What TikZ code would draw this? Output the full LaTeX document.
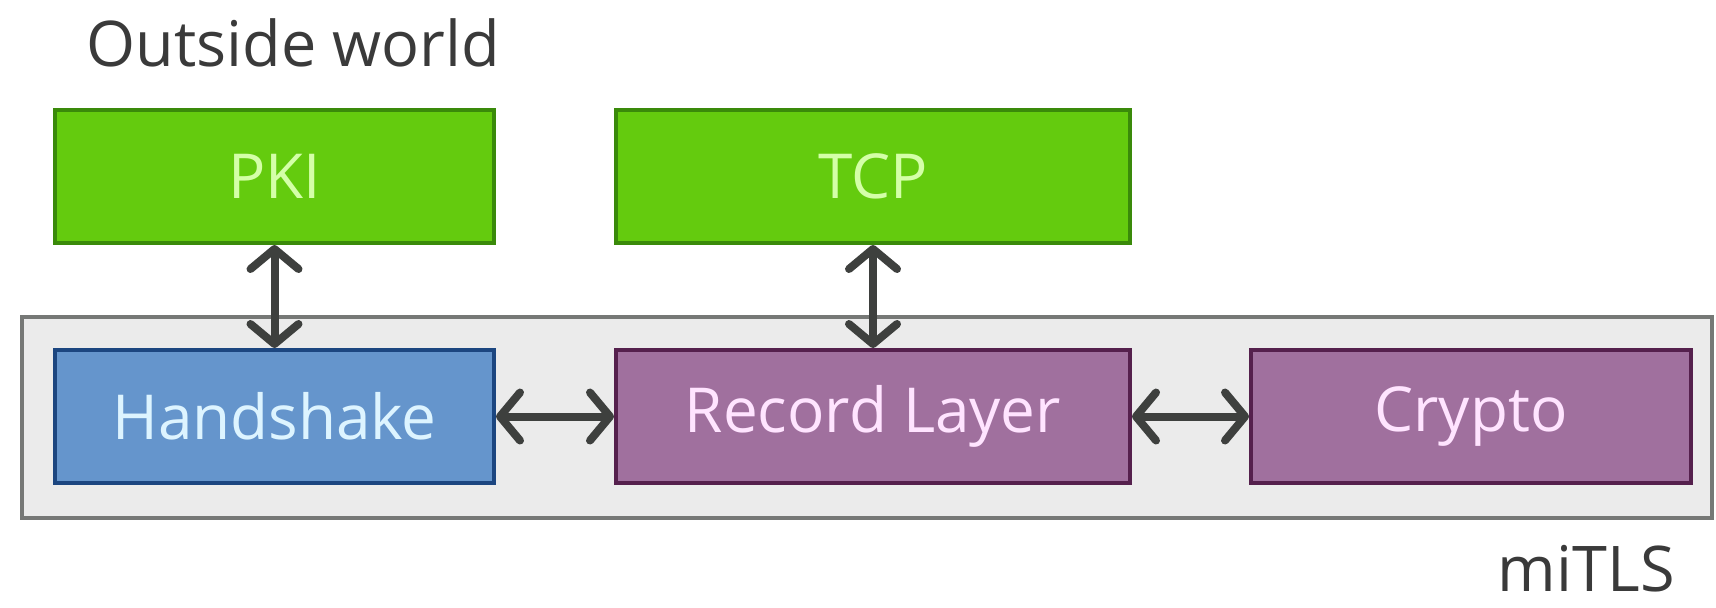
\documentclass[tikz,border=0pt]{standalone}
\usepackage{fontspec}
\setmainfont{Open Sans}
\usetikzlibrary{arrows.meta}
\definecolor{gfill}{HTML}{64CB0E}
\definecolor{gdraw}{HTML}{3A8A0A}
\definecolor{gtext}{HTML}{D4FFA8}
\definecolor{bfill}{HTML}{6595CC}
\definecolor{bdraw}{HTML}{1C4680}
\definecolor{btext}{HTML}{DDF4FF}
\definecolor{pfill}{HTML}{A0709E}
\definecolor{pdraw}{HTML}{55204D}
\definecolor{ptext}{HTML}{FFE4FF}
\definecolor{cfill}{HTML}{EBEBEB}
\definecolor{cdraw}{HTML}{767876}
\definecolor{darktext}{HTML}{3A3A3A}
\definecolor{arrowgray}{HTML}{3E403E}
\begin{document}
\begin{tikzpicture}[x=0.5pt,y=-0.5pt,
  box/.style={draw, line width=2pt, minimum height=66.5pt, inner sep=0pt,
    font=\fontsize{31}{36}\selectfont},
  greenbox/.style={box, fill=gfill, draw=gdraw, text=gtext},
  bluebox/.style={box, fill=bfill, draw=bdraw, text=btext},
  purplebox/.style={box, fill=pfill, draw=pdraw, text=ptext},
  container/.style={draw=cdraw, fill=cfill, line width=1.8pt, inner sep=0pt},
  label/.style={text=darktext, inner sep=0pt, font=\fontsize{31.5}{36}\selectfont},
  link/.style={draw=arrowgray, line width=4pt,
    {Straight Barb[length=10pt,width=24pt,round]}-{Straight Barb[length=10pt,width=24pt,round]}}
]
\useasboundingbox (0,0) rectangle (1716,607);
\node[container, minimum width=845pt, minimum height=100.5pt] (mitls) at (867,417.5) {};
\node[greenbox, minimum width=219.5pt] (pki) at (274.5,176.5) {PKI};
\node[greenbox, minimum width=257pt] (tcp) at (873,176.5) {TCP};
\node[bluebox, minimum width=219.5pt] (hs) at (274.5,416.5) {Handshake};
\node[purplebox, minimum width=257pt] (rl) at (873,416.5) {Record Layer};
\node[purplebox, minimum width=220pt] (cr) at (1471,416.5) {Crypto};
\node[label, anchor=base west] (ow) at (86,66) {Outside world};
\node[label, anchor=base east] (mt) at (1675,591) {miTLS};
\draw[link] (pki) -- (hs);
\draw[link] (tcp) -- (rl);
\draw[link] (hs) -- (rl);
\draw[link] (rl) -- (cr);
\end{tikzpicture}
\end{document}
